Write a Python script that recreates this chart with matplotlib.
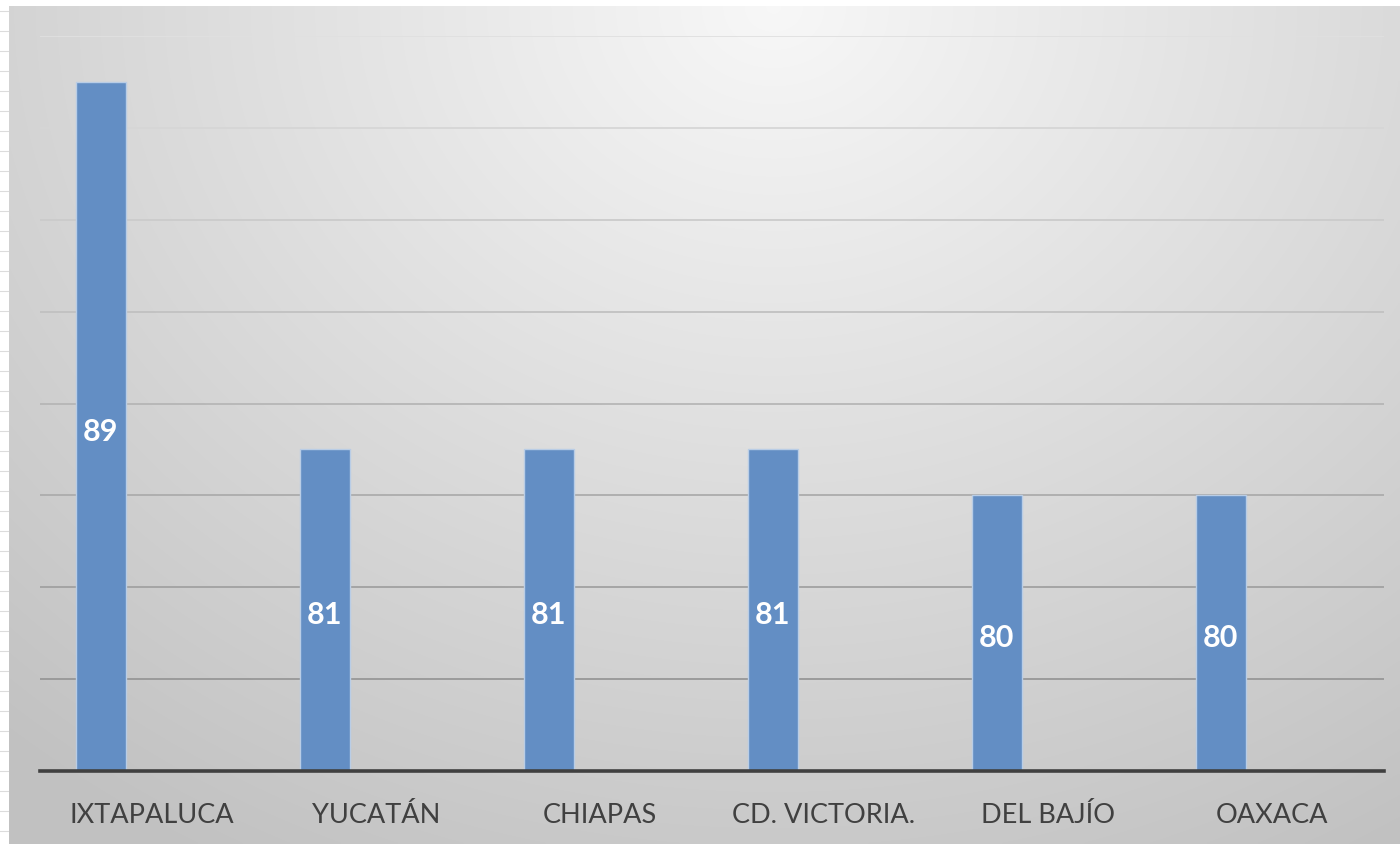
import numpy as np
import matplotlib
matplotlib.use("Agg")
import matplotlib.pyplot as plt
import matplotlib.transforms as mtransforms

categories = ["IXTAPALUCA", "YUCATÁN", "CHIAPAS", "CD. VICTORIA.", "DEL BAJÍO", "OAXACA"]
values = [89, 81, 81, 81, 80, 80]
y_min, y_max, y_step = 74, 90, 2

W, H = 1400, 845
fig = plt.figure(figsize=(W / 100, H / 100), dpi=100)
fig.patch.set_facecolor("white")

# spreadsheet strip on the left
strip = fig.add_axes([0, 0, 9 / W, 1])
strip.set_xlim(0, 1); strip.set_ylim(H, 0)
strip.axis("off")
for yy in range(12, H, 20):
    strip.plot([0, 1], [yy, yy], color="#dcdcdc", lw=0.8)

# gradient background
bg = fig.add_axes([9 / W, 0, 1 - 9 / W, 1 - 7 / H])
ny, nx = 300, 500
xx, yy = np.meshgrid(np.linspace(0, 1, nx), np.linspace(1, 0, ny))
r = np.sqrt(((xx - 0.55) / 0.75) ** 2 + ((yy - 1.0) / 1.05) ** 2)
v = np.clip(0.97 - 0.19 * r, 0.76, 1.0)
img = np.dstack([v, v, v])
bg.imshow(img, aspect="auto", extent=[0, 1, 0, 1], interpolation="bilinear")
bg.axis("off")

# main axes
left, right = 40 / W, 1384 / W
bottom, top = 1 - 772 / H, 1 - 37 / H
ax = fig.add_axes([left, bottom, right - left, top - bottom])
ax.patch.set_alpha(0)
ax.set_xlim(-0.5, len(categories) - 0.5)
ax.set_ylim(y_min, y_max)

grid_vals = np.arange(y_min + y_step, y_max + 0.1, y_step)
for g in grid_vals:
    t = (g - y_min) / (y_max - y_min)
    c = 0.55 + 0.33 * t
    ax.axhline(g, color=(c, c, c), lw=1.3, zorder=1)

x = np.arange(len(categories))
offset = -0.228
bw = 0.223
ax.bar(x + offset, np.array(values) - y_min, bottom=y_min, width=bw,
       color="#638ec4", edgecolor="#b9cde6", linewidth=1.0, zorder=2)
for xi, v_ in zip(x, values):
    ax.annotate(f"{v_}", (xi + offset, (y_min + v_) / 2), xytext=(0, -3),
                textcoords="offset points", ha="center", va="center",
                color="white", fontsize=22, fontweight="bold", family="Lato", zorder=3)

ax.axhline(y_min, color="#404040", lw=2.6, zorder=4, clip_on=False)
for s in ax.spines.values():
    s.set_visible(False)
ax.set_yticks([])
ax.set_xticks([])

trans = mtransforms.blended_transform_factory(ax.transData, fig.transFigure)
label_y = 1 - 823 / H
for xi, lab in zip(x, categories):
    ax.text(xi, label_y, lab, transform=trans, ha="center", va="baseline",
            fontsize=19.5, color="#404040", family="Lato")

fig.savefig("out.png", dpi=100)
